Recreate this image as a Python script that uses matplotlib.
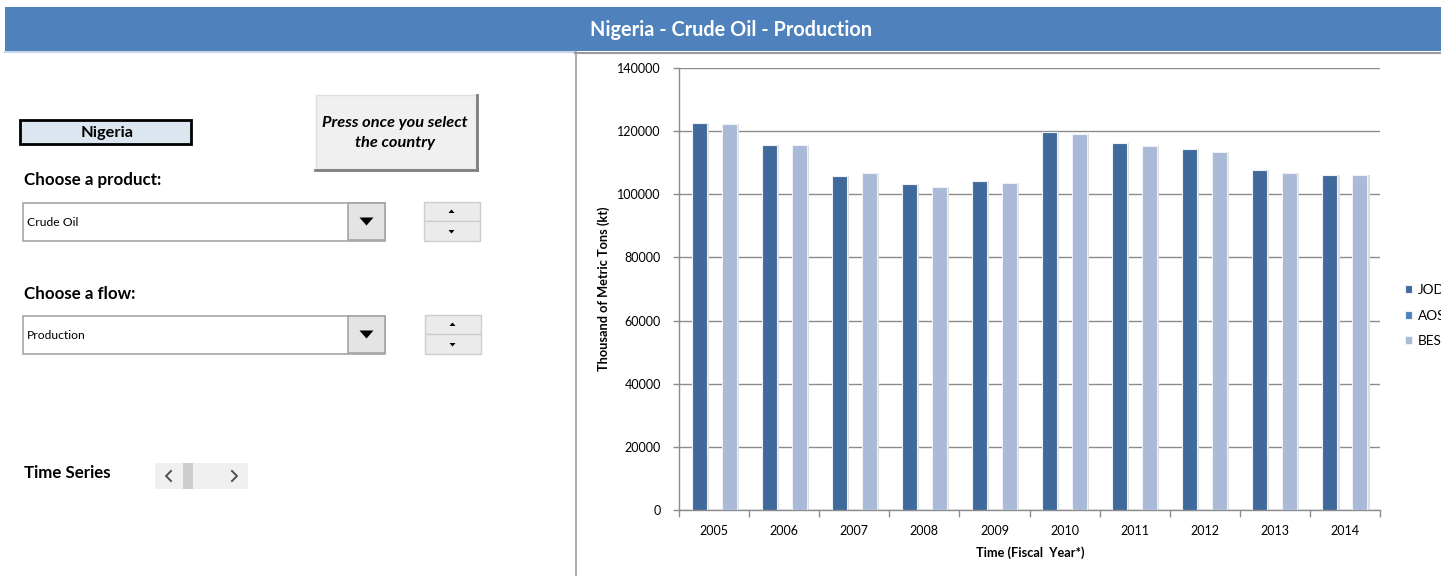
import matplotlib
matplotlib.use("Agg")
import matplotlib.pyplot as plt
from matplotlib.patches import Rectangle, Polygon
import numpy as np

# ---------------- data ----------------
years = ["2005", "2006", "2007", "2008", "2009", "2010", "2011", "2012", "2013", "2014"]
jodi = [122700, 115600, 105900, 103300, 104100, 119800, 116300, 114500, 107600, 106200]
aos = [0, 0, 0, 0, 0, 0, 0, 0, 0, 0]
bes = [122300, 115500, 106900, 102200, 103700, 119100, 115200, 113400, 106700, 106200]
series_names = ["JODI", "AOS", "BES"]
y_ticks = [0, 20000, 40000, 60000, 80000, 100000, 120000, 140000]

title = "Nigeria - Crude Oil - Production"
ylabel = "Thousand of Metric Tons (kt)"
xlabel = "Time (Fiscal  Year*)"

FONT = ["Lato", "DejaVu Sans"]
plt.rcParams["font.family"] = FONT

W, H = 1441, 576
fig = plt.figure(figsize=(W / 100, H / 100), dpi=100)

# background overlay in pixel coords
bg = fig.add_axes([0, 0, 1, 1])
bg.set_xlim(0, W)
bg.set_ylim(H, 0)
bg.axis("off")

def rect(x, y, w, h, **kw):
    bg.add_patch(Rectangle((x, y), w, h, **kw))

# header
rect(5, 7, W - 5, 44, facecolor="#4F81BD", edgecolor="none")
bg.text(731, 29.5, title, color="white", fontsize=14.3, fontweight="bold",
        ha="center", va="center")
bg.plot([5, 575], [52, 52], color="#C5D4E8", lw=1.5)
bg.plot([575, W], [52.5, 52.5], color="#9A9A9A", lw=1.5)
bg.plot([575.5, 575.5], [52, H], color="#9A9A9A", lw=1.2)

# Nigeria box
rect(20, 120, 171, 24, facecolor="#DCE6F1", edgecolor="black", lw=2)
bg.text(107, 132.5, "Nigeria", fontsize=11.8, fontweight="bold", ha="center", va="center")

# press button
rect(316, 95, 476 - 316, 169 - 95, facecolor="#F0F0F0", edgecolor="#E0E0E0", lw=1)
bg.plot([476.5, 476.5], [95, 170], color="#7F7F7F", lw=2)
bg.plot([315, 477], [169.5, 169.5], color="#7F7F7F", lw=2)
bg.text(395, 123, "Press once you select", fontsize=11.8, fontweight="bold",
        fontstyle="italic", ha="center", va="center")
bg.text(395, 143, "the country", fontsize=11.8, fontweight="bold",
        fontstyle="italic", ha="center", va="center")

def combo(y, label):
    rect(22.5, y, 362, 38, facecolor="white", edgecolor="#A5A5A5", lw=1.2)
    rect(348, y + 0.5, 37, 37, facecolor="#E4E4E4", edgecolor="#A5A5A5", lw=1.2)
    cx, cy = 366.5, y + 19
    bg.add_patch(Polygon([[cx - 7, cy - 4], [cx + 7, cy - 4], [cx, cy + 4]],
                         closed=True, facecolor="black", edgecolor="none"))
    bg.text(27, y + 20, label, fontsize=8.7, ha="left", va="center")

def spin(x, y):
    rect(x, y, 56, 19, facecolor="#EBEBEB", edgecolor="#CDCDCD", lw=1)
    rect(x, y + 19, 56, 20, facecolor="#EBEBEB", edgecolor="#CDCDCD", lw=1)
    cx = x + 28
    bg.add_patch(Polygon([[cx - 3, y + 11], [cx + 3, y + 11], [cx, y + 7.5]],
                         closed=True, facecolor="black", edgecolor="none"))
    bg.add_patch(Polygon([[cx - 3, y + 28], [cx + 3, y + 28], [cx, y + 31.5]],
                         closed=True, facecolor="black", edgecolor="none"))

bg.text(24, 180, "Choose a product:", fontsize=12.2, fontweight="bold", ha="left", va="center")
combo(202.5, "Crude Oil")
spin(423.5, 202)
bg.text(24, 294, "Choose a flow:", fontsize=12.2, fontweight="bold", ha="left", va="center")
combo(315.5, "Production")
spin(424.5, 315)

# time series scrollbar
bg.text(24, 473, "Time Series", fontsize=12.2, fontweight="bold", ha="left", va="center")
rect(155, 463, 93, 26, facecolor="#F0F0F0", edgecolor="none")
rect(183, 463, 10, 26, facecolor="#CDCDCD", edgecolor="none")
bg.plot([171, 166, 171], [471, 476, 481], color="#505050", lw=1.4)
bg.plot([232, 237, 232], [471, 476, 481], color="#505050", lw=1.4)

# ---------------- chart ----------------
L, R, T, B = 679, 1380, 68, 510
ax = fig.add_axes([L / W, (H - B) / H, (R - L) / W, (B - T) / H])
ax.patch.set_alpha(0)
x = np.arange(len(years))
bw = 15 / 70.1
cols = ["#416A9C", "#4F81BD", "#AAB9D7"]
data = [jodi, aos, bes]
handles = []
for i, (vals, c, name) in enumerate(zip(data, cols, series_names)):
    pos = x + (i - 1) * bw
    # soft shadow
    ax.bar(pos + 0.03, vals, bw, color="#DCDCDC", edgecolor="none", zorder=2)
    h = ax.bar(pos, vals, bw, color=c, edgecolor="#EEF1F7", linewidth=0.8,
               zorder=3, label=name)
    handles.append(h)

ax.set_xlim(-0.5, len(years) - 0.5)
ax.set_ylim(0, 140000)
ax.set_yticks(y_ticks)
ax.set_yticklabels([str(v) for v in y_ticks], fontsize=9)
ax.yaxis.grid(True, color="#8C8C8C", lw=1)
ax.set_axisbelow(True)
ax.tick_params(axis="y", length=4, width=1, color="#8C8C8C", pad=9)
ax.set_xticks(x)
ax.set_xticklabels(years, fontsize=9)
ax.set_xticks(np.arange(-0.5, len(years), 1.0), minor=True)
ax.tick_params(axis="x", which="major", length=0, pad=11)
ax.tick_params(axis="x", which="minor", length=5, width=1, color="#8C8C8C")
for s in ["top", "right"]:
    ax.spines[s].set_visible(False)
for s in ["left", "bottom"]:
    ax.spines[s].set_color("#8C8C8C")
    ax.spines[s].set_linewidth(1)

bg.text(604, 289, ylabel, fontsize=9.2, fontweight="bold", rotation=90,
        ha="center", va="center")
bg.text(1030, 553, xlabel, fontsize=9.2, fontweight="bold", ha="center", va="center")

leg = fig.legend(handles=handles, labels=series_names, loc="center left",
                 bbox_to_anchor=(1405 / W, (H - 315.5) / H), frameon=False,
                 fontsize=9.8, handlelength=0.5, handleheight=0.5,
                 handletextpad=0.45, labelspacing=1.0, borderpad=0,
                 borderaxespad=0)

fig.savefig("out.png", dpi=100)
